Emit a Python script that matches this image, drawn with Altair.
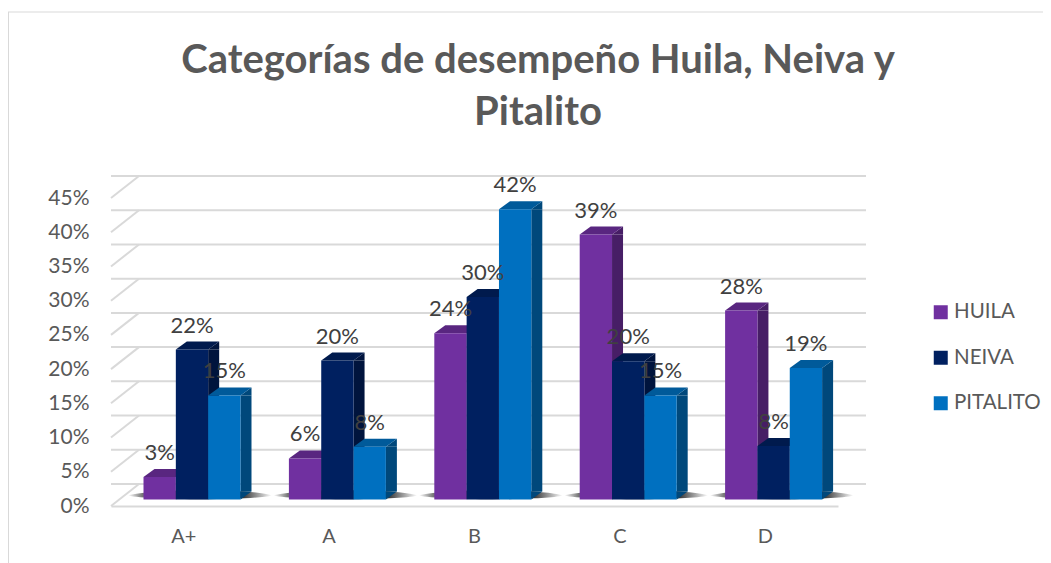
import altair as alt
import pandas as pd

categories = ["A+", "A", "B", "C", "D"]
series_names = ["HUILA", "NEIVA", "PITALITO"]
huila = [0.033, 0.060, 0.243, 0.387, 0.276]
neiva = [0.219, 0.203, 0.296, 0.202, 0.078]
pitalito = [0.152, 0.077, 0.424, 0.152, 0.192]
y_ticks = [0, 0.05, 0.10, 0.15, 0.20, 0.25, 0.30, 0.35, 0.40, 0.45]
front_colors = ["#7030A0", "#002060", "#0070C0"]
side_colors = ["#471E66", "#00143D", "#00487B"]
top_colors = ["#592680", "#001A4D", "#005A9A"]

FONT = "Lato"
TXT = "#595959"
BAR_W = 32.33
GROUP_SHIFT = 8.3
FLOOR_UP = 6.5
DX, DY = 11, 8
PLOT_H = 308

rows = []
for name, vals in zip(series_names, [huila, neiva, pitalito]):
    for c, v in zip(categories, vals):
        rows.append({"cat": c, "series": name, "value": v})
df = pd.DataFrame(rows)
ticks = pd.DataFrame({"value": y_ticks})
cats = pd.DataFrame({"cat": categories})

xenc = alt.X("cat:N", sort=categories, title=None,
             scale=alt.Scale(paddingInner=0, paddingOuter=0),
             axis=alt.Axis(labelAngle=0, labelAlign="center", labelFont=FONT, labelFontSize=20,
                           labelColor=TXT, labelPadding=20, ticks=False,
                           domainColor="#D9D9D9", domainWidth=2, grid=False))
yenc = alt.Y("value:Q", stack=None, title=None,
             scale=alt.Scale(domain=[0, 0.45], nice=False),
             axis=alt.Axis(values=y_ticks, format=".0%", labelFont=FONT, labelFontSize=21,
                           labelColor=TXT, labelPadding=22, ticks=False, domain=False, grid=False))
x_zero = alt.value(0)

layers = []
# back wall grid and the diagonal side wall lines
layers.append(alt.Chart(ticks).mark_rule(color="#D9D9D9", strokeWidth=2, xOffset=28, yOffset=-22)
              .encode(y=yenc))
layers.append(alt.Chart(ticks).mark_point(shape="M0,0L28,-22", size=4, filled=False, opacity=1,
                                          stroke="#D9D9D9", strokeWidth=2)
              .encode(x=x_zero, y=yenc))
# contact shadows under each bar group
shadow_fill = alt.LinearGradient(
    gradient="linear", x1=0, x2=1, y1=0, y2=0,
    stops=[alt.GradientStop(offset=0, color="#ffffff"),
           alt.GradientStop(offset=0.1, color="#777777"),
           alt.GradientStop(offset=0.78, color="#222222"),
           alt.GradientStop(offset=1, color="#ffffff")])
layers.append(alt.Chart(cats).mark_point(
    shape="M-64,-4C-40,-11 60,-11 80,-4C60,1 -40,1 -64,-4Z", size=4, filled=True, opacity=1,
    fill=shadow_fill, xOffset=GROUP_SHIFT, yOffset=-FLOOR_UP)
    .encode(x=xenc, y=alt.value(PLOT_H)))

half = BAR_W / 2
side_top = f"M{half},0L{half+DX},{-DY}L{half+DX},0Z"
side_bot = f"M{half},0L{half+DX},{-DY}L{half},{-DY}Z"
top_face = f"M{-half},0L{half},0L{half+DX},{-DY}L{-half+DX},{-DY}Z"

for i, name in enumerate(series_names):
    c = (i - 1) * BAR_W + GROUP_SHIFT
    d = df[df.series == name]
    base = alt.Chart(d)
    layers.append(base.mark_bar(width=DX, xOffset=c + half + DX / 2, yOffset=-FLOOR_UP,
                                color=side_colors[i])
                  .encode(x=xenc, y=yenc, y2=alt.value(PLOT_H - FLOOR_UP - DY)))
    layers.append(base.mark_point(shape=side_top, size=4, filled=True, opacity=1,
                                  color=side_colors[i], xOffset=c, yOffset=-FLOOR_UP)
                  .encode(x=xenc, y=yenc))
    layers.append(base.mark_point(shape=side_bot, size=4, filled=True, opacity=1,
                                  color=side_colors[i], xOffset=c, yOffset=-FLOOR_UP)
                  .encode(x=xenc, y=alt.value(PLOT_H)))
    layers.append(base.mark_point(shape=top_face, size=4, filled=True, opacity=1,
                                  color=top_colors[i], xOffset=c, yOffset=-FLOOR_UP)
                  .encode(x=xenc, y=yenc))
    layers.append(base.mark_bar(width=BAR_W, xOffset=c, yOffset=-FLOOR_UP)
                  .encode(x=xenc, y=yenc, y2=alt.value(PLOT_H - FLOOR_UP),
                          color=alt.Color("series:N",
                                          scale=alt.Scale(domain=series_names, range=front_colors),
                                          legend=alt.Legend(
                                              title=None, orient="none", legendX=819.5, legendY=104,
                                              symbolType="square", symbolSize=196, symbolStrokeWidth=0,
                                              labelFont=FONT, labelFontSize=20.5, labelColor=TXT,
                                              labelOffset=3, rowPadding=24.5))))

for i, name in enumerate(series_names):
    c = (i - 1) * BAR_W + GROUP_SHIFT
    d = df[df.series == name]
    layers.append(alt.Chart(d).mark_text(font=FONT, fontSize=22, color="#404040", xOffset=c,
                                         yOffset=-FLOOR_UP - 24)
                  .encode(x=xenc, y=yenc, text=alt.Text("value:Q", format=".0%")))

# outer frame of the chart
layers.append(alt.Chart(cats.head(1)).mark_rule(color="#D9D9D9", strokeWidth=1)
              .encode(x=alt.value(-103), x2=alt.value(932), y=alt.value(-186)))
layers.append(alt.Chart(cats.head(1)).mark_rule(color="#D9D9D9", strokeWidth=1)
              .encode(x=alt.value(-102.5), y=alt.value(-186), y2=alt.value(365)))

chart = alt.layer(*layers).properties(
    width=727, height=PLOT_H,
    padding={"left": 103, "top": 190, "right": 205, "bottom": 57},
    autosize=alt.AutoSizeParams(type="none"),
    title=alt.TitleParams(
        text=["Categorías de desempeño Huila, Neiva y", "Pitalito"],
        font=FONT, fontSize=40, fontWeight="bold", color=TXT, lineHeight=52,
        anchor="middle", dx=63.5, offset=0, dy=121),
).configure_view(stroke=None)

chart.save("out.html", embed_options={"renderer": "svg", "actions": False})
